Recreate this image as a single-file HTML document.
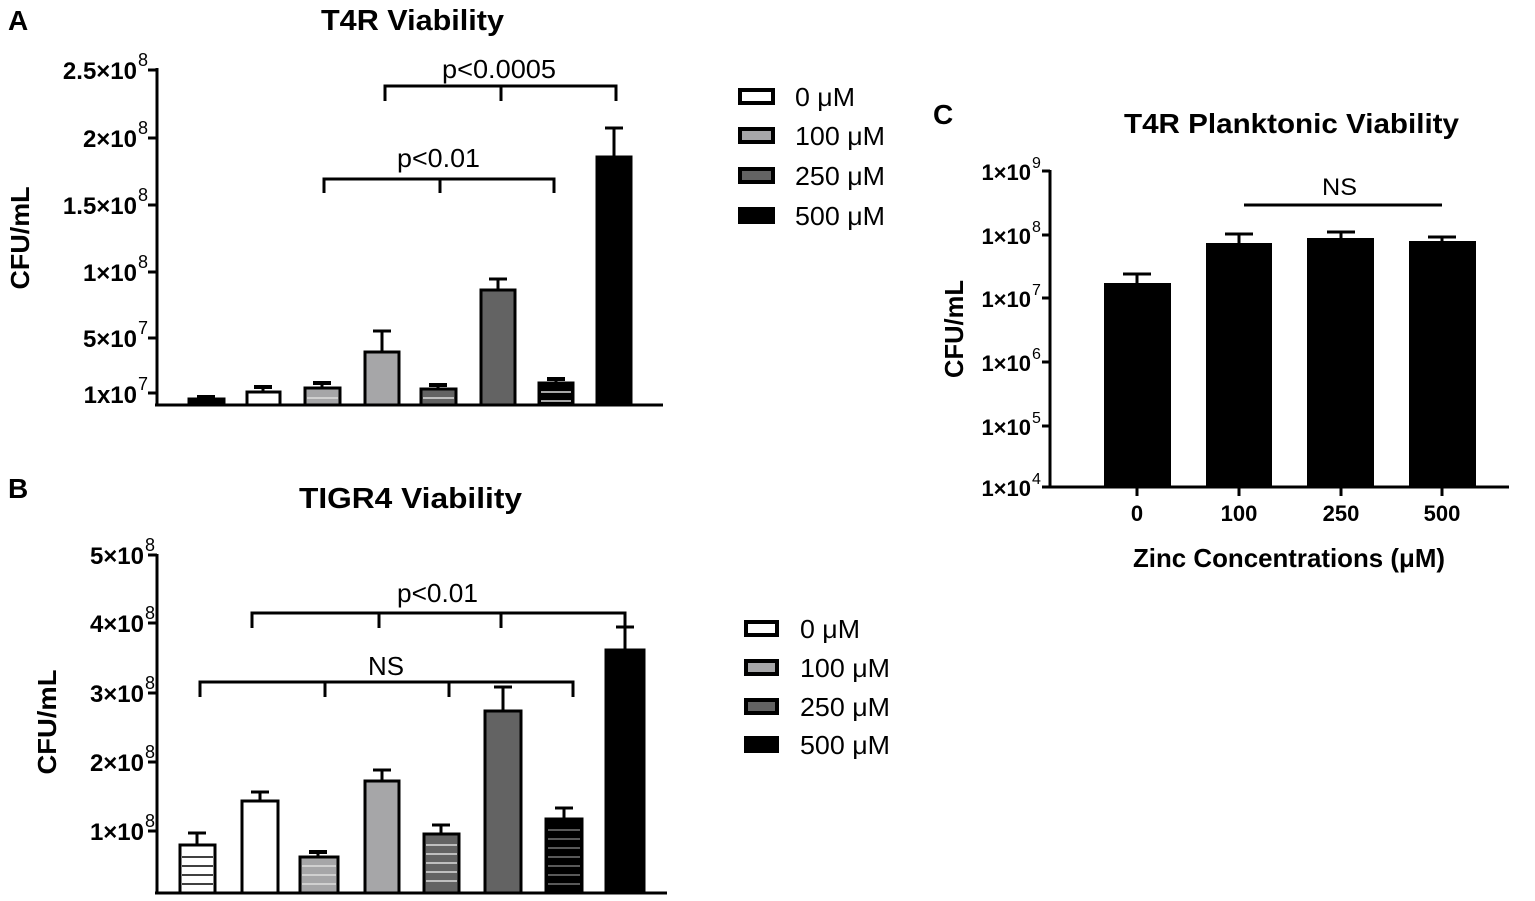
<!DOCTYPE html>
<html><head><meta charset="utf-8"><style>
html,body{margin:0;padding:0;background:#fff;}
svg{display:block;font-family:"Liberation Sans",Arial,sans-serif;}
.b{font-weight:bold;}
</style></head><body>
<svg width="1535" height="901" viewBox="0 0 1535 901" xmlns="http://www.w3.org/2000/svg">
<g fill="#000">
<text x="8" y="30" font-size="28" class="b">A</text>
<text x="8" y="498" font-size="28" class="b">B</text>
<text x="933" y="124" font-size="28" class="b">C</text>
<text x="321" y="30" font-size="29" class="b" textLength="183" lengthAdjust="spacingAndGlyphs">T4R Viability</text>
<text x="299" y="508" font-size="29" class="b" textLength="223" lengthAdjust="spacingAndGlyphs">TIGR4 Viability</text>
<text x="1124" y="133" font-size="28" class="b" textLength="335" lengthAdjust="spacingAndGlyphs">T4R Planktonic Viability</text>
</g>

<!-- Panel A -->
<g stroke="#000" stroke-width="3" fill="none">
<line x1="157" y1="68" x2="157" y2="406"/>
<line x1="155" y1="405" x2="663" y2="405"/>
<line x1="148" y1="70" x2="157" y2="70"/>
<line x1="148" y1="138" x2="157" y2="138"/>
<line x1="148" y1="205" x2="157" y2="205"/>
<line x1="148" y1="272" x2="157" y2="272"/>
<line x1="148" y1="338" x2="157" y2="338"/>
<line x1="148" y1="393" x2="157" y2="393"/>
</g>
<g font-size="24" class="b">
<g text-anchor="end">
<text x="137" y="79">2.5×10</text>
<text x="137" y="147">2×10</text>
<text x="137" y="214">1.5×10</text>
<text x="137" y="281">1×10</text>
<text x="137" y="347">5×10</text>
<text x="137" y="403">1x10</text>
</g>
<g font-size="18" font-weight="normal">
<text x="138" y="66">8</text><text x="138" y="134">8</text><text x="138" y="201">8</text><text x="138" y="268">8</text><text x="138" y="334">7</text><text x="138" y="390">7</text>
</g>
</g>
<text transform="translate(29,238) rotate(-90)" font-size="26" class="b" text-anchor="middle" textLength="103" lengthAdjust="spacingAndGlyphs">CFU/mL</text>
<g stroke="#000" stroke-width="3">
<line x1="206" y1="397" x2="206" y2="399"/><line x1="197" y1="397" x2="215" y2="397" stroke-width="4"/>
<line x1="263" y1="387" x2="263" y2="392"/><line x1="254" y1="387" x2="272" y2="387" stroke-width="4"/>
<line x1="322" y1="383" x2="322" y2="388"/><line x1="313" y1="383" x2="331" y2="383" stroke-width="4"/>
<line x1="382" y1="331" x2="382" y2="352"/><line x1="373" y1="331" x2="391" y2="331"/>
<line x1="438" y1="385" x2="438" y2="389"/><line x1="429" y1="385" x2="447" y2="385" stroke-width="4"/>
<line x1="498" y1="279" x2="498" y2="290"/><line x1="489" y1="279" x2="507" y2="279"/>
<line x1="556" y1="379" x2="556" y2="383"/><line x1="547" y1="379" x2="565" y2="379" stroke-width="4"/>
<line x1="614" y1="128" x2="614" y2="157"/><line x1="605" y1="128" x2="623" y2="128"/>
</g>
<g stroke="#000" stroke-width="3">
<rect x="189" y="399" width="35" height="6" fill="#000"/>
<rect x="247" y="392" width="33" height="13" fill="#fff"/>
<rect x="305" y="388" width="35" height="17" fill="#a6a6a8"/>
<rect x="365" y="352" width="34" height="53" fill="#a6a6a8"/>
<rect x="421" y="389" width="35" height="16" fill="#636363"/>
<rect x="481" y="290" width="34" height="115" fill="#636363"/>
<rect x="539" y="383" width="34" height="22" fill="#000"/>
<rect x="597" y="157" width="34" height="248" fill="#000"/>
</g>
<g stroke="#ddd" stroke-width="1.5">
<line x1="307" y1="398" x2="338" y2="398"/>
<line x1="423" y1="398" x2="454" y2="398"/>
<line x1="541" y1="392" x2="571" y2="392"/><line x1="541" y1="401" x2="571" y2="401"/>
</g>
<g stroke="#000" stroke-width="3" fill="none">
<path d="M385 101 V86 H616 V101 M501 86 V101"/>
<path d="M324 193 V179 H554 V193 M440 179 V193"/>
</g>
<text x="442" y="78" font-size="26" textLength="114" lengthAdjust="spacingAndGlyphs">p&lt;0.0005</text>
<text x="397" y="167" font-size="26" textLength="83" lengthAdjust="spacingAndGlyphs">p&lt;0.01</text>
<g font-size="26">
<rect x="740" y="90" width="33" height="13" fill="#fff" stroke="#000" stroke-width="4"/>
<rect x="740" y="129" width="33" height="13" fill="#a6a6a8" stroke="#000" stroke-width="4"/>
<rect x="740" y="169" width="33" height="13" fill="#636363" stroke="#000" stroke-width="4"/>
<rect x="740" y="209" width="33" height="13" fill="#000" stroke="#000" stroke-width="4"/>
<text x="795" y="106" textLength="60" lengthAdjust="spacingAndGlyphs">0 μM</text>
<text x="795" y="145" textLength="90" lengthAdjust="spacingAndGlyphs">100 μM</text>
<text x="795" y="185" textLength="90" lengthAdjust="spacingAndGlyphs">250 μM</text>
<text x="795" y="225" textLength="90" lengthAdjust="spacingAndGlyphs">500 μM</text>
</g>

<!-- Panel B -->
<g stroke="#000" stroke-width="3" fill="none">
<line x1="157" y1="554" x2="157" y2="894"/>
<line x1="155" y1="893" x2="667" y2="893"/>
<line x1="148" y1="555" x2="157" y2="555"/>
<line x1="148" y1="623" x2="157" y2="623"/>
<line x1="148" y1="693" x2="157" y2="693"/>
<line x1="148" y1="762" x2="157" y2="762"/>
<line x1="148" y1="831" x2="157" y2="831"/>
</g>
<g font-size="24" class="b">
<g text-anchor="end">
<text x="144" y="564">5×10</text>
<text x="144" y="632">4×10</text>
<text x="144" y="702">3×10</text>
<text x="144" y="771">2×10</text>
<text x="144" y="840">1×10</text>
</g>
<g font-size="18" font-weight="normal">
<text x="145" y="551">8</text><text x="145" y="619">8</text><text x="145" y="689">8</text><text x="145" y="758">8</text><text x="145" y="827">8</text>
</g>
</g>
<text transform="translate(56,722) rotate(-90)" font-size="26" class="b" text-anchor="middle" textLength="105" lengthAdjust="spacingAndGlyphs">CFU/mL</text>
<g stroke="#000" stroke-width="3">
<line x1="197" y1="833" x2="197" y2="845"/><line x1="188" y1="833" x2="206" y2="833"/>
<line x1="260" y1="792" x2="260" y2="801"/><line x1="251" y1="792" x2="269" y2="792"/>
<line x1="318" y1="852" x2="318" y2="857"/><line x1="309" y1="852" x2="327" y2="852" stroke-width="4"/>
<line x1="382" y1="770" x2="382" y2="781"/><line x1="373" y1="770" x2="391" y2="770"/>
<line x1="441" y1="825" x2="441" y2="834"/><line x1="432" y1="825" x2="450" y2="825"/>
<line x1="503" y1="687" x2="503" y2="711"/><line x1="494" y1="687" x2="512" y2="687"/>
<line x1="564" y1="808" x2="564" y2="819"/><line x1="555" y1="808" x2="573" y2="808"/>
<line x1="625" y1="627" x2="625" y2="650"/><line x1="616" y1="627" x2="634" y2="627"/>
</g>
<g stroke="#000" stroke-width="3">
<rect x="180" y="845" width="35" height="48" fill="#fff"/>
<rect x="242" y="801" width="36" height="92" fill="#fff"/>
<rect x="300" y="857" width="38" height="36" fill="#a6a6a8"/>
<rect x="365" y="781" width="34" height="112" fill="#a6a6a8"/>
<rect x="424" y="834" width="35" height="59" fill="#636363"/>
<rect x="485" y="711" width="36" height="182" fill="#636363"/>
<rect x="546" y="819" width="36" height="74" fill="#000"/>
<rect x="606" y="650" width="38" height="243" fill="#000"/>
</g>
<g stroke="#000" stroke-width="1.5">
<line x1="182" y1="857" x2="213" y2="857"/><line x1="182" y1="866" x2="213" y2="866"/><line x1="182" y1="875" x2="213" y2="875"/><line x1="182" y1="884" x2="213" y2="884"/>
</g>
<g stroke="#ddd" stroke-width="1.5">
<line x1="302" y1="866" x2="336" y2="866"/><line x1="302" y1="875" x2="336" y2="875"/><line x1="302" y1="884" x2="336" y2="884"/>
<line x1="426" y1="845" x2="457" y2="845"/><line x1="426" y1="854" x2="457" y2="854"/><line x1="426" y1="863" x2="457" y2="863"/><line x1="426" y1="872" x2="457" y2="872"/><line x1="426" y1="881" x2="457" y2="881"/>
</g>
<g stroke="#777" stroke-width="1.5">
<line x1="548" y1="830" x2="580" y2="830"/><line x1="548" y1="839" x2="580" y2="839"/><line x1="548" y1="848" x2="580" y2="848"/><line x1="548" y1="857" x2="580" y2="857"/><line x1="548" y1="866" x2="580" y2="866"/><line x1="548" y1="875" x2="580" y2="875"/><line x1="548" y1="884" x2="580" y2="884"/>
</g>
<g stroke="#000" stroke-width="3" fill="none">
<path d="M252 628 V613 H625 V628 M379 613 V628 M501 613 V628"/>
<path d="M200 697 V682 H573 V697 M325 682 V697 M449 682 V697"/>
</g>
<text x="397" y="602" font-size="26" textLength="81" lengthAdjust="spacingAndGlyphs">p&lt;0.01</text>
<text x="368" y="675" font-size="26" textLength="36" lengthAdjust="spacingAndGlyphs">NS</text>
<g font-size="26">
<rect x="746" y="622" width="31" height="13" fill="#fff" stroke="#000" stroke-width="4"/>
<rect x="746" y="661" width="31" height="13" fill="#a6a6a8" stroke="#000" stroke-width="4"/>
<rect x="746" y="700" width="31" height="13" fill="#636363" stroke="#000" stroke-width="4"/>
<rect x="746" y="738" width="31" height="13" fill="#000" stroke="#000" stroke-width="4"/>
<text x="800" y="638" textLength="60" lengthAdjust="spacingAndGlyphs">0 μM</text>
<text x="800" y="677" textLength="90" lengthAdjust="spacingAndGlyphs">100 μM</text>
<text x="800" y="716" textLength="90" lengthAdjust="spacingAndGlyphs">250 μM</text>
<text x="800" y="754" textLength="90" lengthAdjust="spacingAndGlyphs">500 μM</text>
</g>

<!-- Panel C -->
<g stroke="#000" stroke-width="3" fill="none">
<line x1="1050" y1="170" x2="1050" y2="488"/>
<line x1="1048" y1="487" x2="1509" y2="487"/>
<line x1="1042" y1="171" x2="1050" y2="171"/>
<line x1="1042" y1="235" x2="1050" y2="235"/>
<line x1="1042" y1="298" x2="1050" y2="298"/>
<line x1="1042" y1="362" x2="1050" y2="362"/>
<line x1="1042" y1="426" x2="1050" y2="426"/>
<line x1="1042" y1="487" x2="1050" y2="487"/>
<line x1="1137" y1="487" x2="1137" y2="496"/>
<line x1="1239" y1="487" x2="1239" y2="496"/>
<line x1="1341" y1="487" x2="1341" y2="496"/>
<line x1="1442" y1="487" x2="1442" y2="496"/>
</g>
<g font-size="22" class="b">
<g text-anchor="end">
<text x="1031" y="180">1×10</text>
<text x="1031" y="244">1×10</text>
<text x="1031" y="307">1×10</text>
<text x="1031" y="371">1×10</text>
<text x="1031" y="435">1×10</text>
<text x="1031" y="496">1×10</text>
</g>
<g font-size="16" font-weight="normal">
<text x="1032" y="168">9</text><text x="1032" y="232">8</text><text x="1032" y="295">7</text><text x="1032" y="359">6</text><text x="1032" y="423">5</text><text x="1032" y="484">4</text>
</g>
</g>
<text transform="translate(963,329) rotate(-90)" font-size="26" class="b" text-anchor="middle" textLength="98" lengthAdjust="spacingAndGlyphs">CFU/mL</text>
<g stroke="#000" stroke-width="3">
<line x1="1137" y1="274" x2="1137" y2="283"/><line x1="1123" y1="274" x2="1151" y2="274"/>
<line x1="1239" y1="234" x2="1239" y2="243"/><line x1="1225" y1="234" x2="1253" y2="234"/>
<line x1="1341" y1="232" x2="1341" y2="238"/><line x1="1327" y1="232" x2="1355" y2="232"/>
<line x1="1442" y1="237" x2="1442" y2="241"/><line x1="1428" y1="237" x2="1456" y2="237"/>
</g>
<g fill="#000">
<rect x="1104" y="283" width="67" height="204"/>
<rect x="1206" y="243" width="66" height="244"/>
<rect x="1307" y="238" width="67" height="249"/>
<rect x="1409" y="241" width="67" height="246"/>
</g>
<line x1="1244" y1="205" x2="1442" y2="205" stroke="#000" stroke-width="3"/>
<text x="1322" y="195" font-size="24" textLength="35" lengthAdjust="spacingAndGlyphs">NS</text>
<g font-size="22" class="b" text-anchor="middle">
<text x="1137" y="521">0</text>
<text x="1239" y="521">100</text>
<text x="1341" y="521">250</text>
<text x="1442" y="521">500</text>
</g>
<text x="1133" y="567" font-size="26" class="b" textLength="312" lengthAdjust="spacingAndGlyphs">Zinc Concentrations (μM)</text>
</svg>
</body></html>
